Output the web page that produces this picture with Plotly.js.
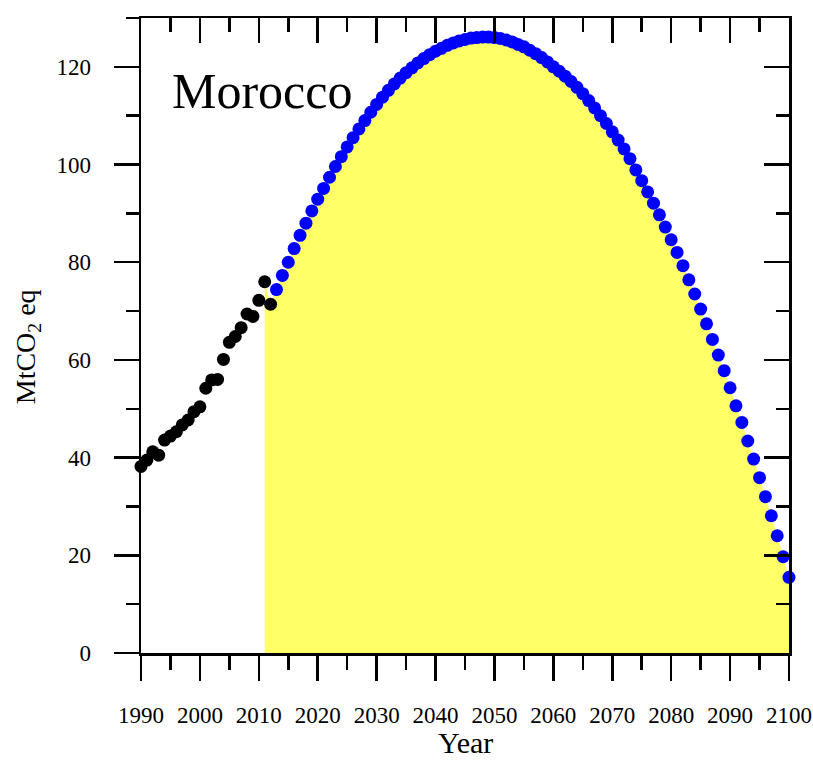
<!DOCTYPE html>
<html>
<head>
<meta charset="utf-8">
<script src="https://cdn.plot.ly/plotly-3.0.1.min.js"></script>
<style>html,body{margin:0;padding:0;background:#fff;}#chart{width:813px;height:761px;}</style>
</head>
<body>
<div id="chart"></div>
<script>
// Observed emissions (MtCO2 eq), 1990-2012
const obsYears = [1990,1991,1992,1993,1994,1995,1996,1997,1998,1999,2000,2001,2002,2003,2004,2005,2006,2007,2008,2009,2010,2011,2012];
const obsValues = [38.2,39.5,41.2,40.5,43.6,44.4,45.3,46.7,47.7,49.4,50.4,54.2,55.9,56.0,60.1,63.6,64.8,66.6,69.4,68.9,72.2,76.0,71.4];

// Projected emissions (MtCO2 eq), 2013-2100
const projYears = [];
for (let y = 2013; y <= 2100; y++) projYears.push(y);
const projValues = [
  74.4,77.3,80.0,82.8,85.5,88.0,90.5,92.9,95.1,97.4,          // 2013-2022
  99.6,101.6,103.6,105.5,107.3,109.0,110.7,112.3,113.8,115.2, // 2023-2032
  116.5,117.7,118.8,119.8,120.8,121.7,122.5,123.2,123.8,124.4,// 2033-2042
  124.9,125.3,125.6,125.9,126.0,126.1,126.1,126.0,125.8,125.5,// 2043-2052
  125.1,124.6,124.1,123.4,122.7,121.9,121.0,120.0,119.1,118.1,// 2053-2062
  117.0,115.8,114.5,113.1,111.6,110.0,108.4,106.7,105.0,103.2,// 2063-2072
  101.2,98.9,96.7,94.4,92.1,89.7,87.2,84.6,82.0,79.3,         // 2073-2082
  76.4,73.5,70.4,67.4,64.2,61.0,57.8,54.3,50.6,47.2,          // 2083-2092
  43.4,39.7,35.9,32.0,28.1,24.0,19.7,15.5                     // 2093-2100
];

// Shaded area starts at 2011
const fillStart = 2011;

const xTickVals = [1990,2000,2010,2020,2030,2040,2050,2060,2070,2080,2090,2100];
const yTickVals = [0,20,40,60,80,100,120];
const countryLabel = "Morocco";
const xTitle = "Year";
const yTitle = "MtCO<sub>2</sub> eq";

const fillX = [], fillY = [];
obsYears.forEach((yr, i) => { if (yr >= fillStart) { fillX.push(yr); fillY.push(obsValues[i]); } });
projYears.forEach((yr, i) => { fillX.push(yr); fillY.push(projValues[i]); });

const FONT = "Liberation Serif, Times New Roman, serif";

const traces = [
  {x: fillX, y: fillY, type: 'scatter', mode: 'lines', fill: 'tozeroy',
   fillcolor: '#FFFF66', line: {width: 0, color: '#FFFF66'}, hoverinfo: 'skip', showlegend: false},
  {x: obsYears, y: obsValues, type: 'scatter', mode: 'markers', cliponaxis: false,
   marker: {color: '#000000', size: 13}, showlegend: false},
  {x: projYears, y: projValues, type: 'scatter', mode: 'markers', cliponaxis: false,
   marker: {color: '#0000FF', size: 13}, showlegend: false},
  {x: [], y: [], xaxis: 'x2', yaxis: 'y2', type: 'scatter', mode: 'markers', showlegend: false, hoverinfo: 'skip'}
];

const axBase = {
  showgrid: false, zeroline: false, showline: true, linecolor: '#000', linewidth: 2.5,
  tickcolor: '#000', tickwidth: 2.5, ticklen: 25,
  tickfont: {family: FONT, size: 23, color: '#000'}
};

const layout = {
  width: 813, height: 761,
  margin: {l: 141, r: 24, t: 18, b: 108},
  paper_bgcolor: '#fff', plot_bgcolor: 'rgba(0,0,0,0)',
  showlegend: false,
  xaxis: Object.assign({}, axBase, {
    range: [1990, 2100], tickmode: 'array', tickvals: xTickVals, ticks: 'outside',
    ticklabelstandoff: 15,
    minor: {dtick: 5, tick0: 1990, ticks: 'outside', ticklen: 14, tickwidth: 2.5, tickcolor: '#000'}
  }),
  yaxis: Object.assign({}, axBase, {
    range: [0, 130], tickmode: 'array', tickvals: yTickVals, ticks: 'outside',
    ticklabelstandoff: 18,
    minor: {dtick: 10, tick0: 0, ticks: 'outside', ticklen: 13, tickwidth: 2.5, tickcolor: '#000'}
  }),
  xaxis2: Object.assign({}, axBase, {
    overlaying: 'x', side: 'top', anchor: 'y2', range: [1990, 2100], matches: 'x',
    tickmode: 'array', tickvals: xTickVals, ticks: 'inside', showticklabels: false,
    minor: {dtick: 5, tick0: 1990, ticks: 'inside', ticklen: 14, tickwidth: 2.5, tickcolor: '#000'}
  }),
  yaxis2: Object.assign({}, axBase, {
    overlaying: 'y', side: 'right', anchor: 'x2', range: [0, 130],
    tickmode: 'array', tickvals: yTickVals, ticks: 'inside', showticklabels: false,
    minor: {dtick: 10, tick0: 0, ticks: 'inside', ticklen: 13, tickwidth: 2.5, tickcolor: '#000'}
  }),
  annotations: [
    {text: countryLabel, xref: 'paper', yref: 'paper', x: 0.045, y: 0.885,
     xanchor: 'left', yanchor: 'middle', showarrow: false,
     font: {family: FONT, size: 50, color: '#000'}},
    {text: xTitle, xref: 'paper', yref: 'paper', x: 0.5, y: -0.1417,
     xanchor: 'center', yanchor: 'middle', showarrow: false,
     font: {family: FONT, size: 30, color: '#000'}},
    {text: yTitle, xref: 'paper', yref: 'paper', x: -0.176, y: 0.483, textangle: -90,
     xanchor: 'center', yanchor: 'middle', showarrow: false,
     font: {family: FONT, size: 28, color: '#000'}}
  ]
};

Plotly.newPlot('chart', traces, layout, {displayModeBar: false, staticPlot: true});
</script>
</body>
</html>
